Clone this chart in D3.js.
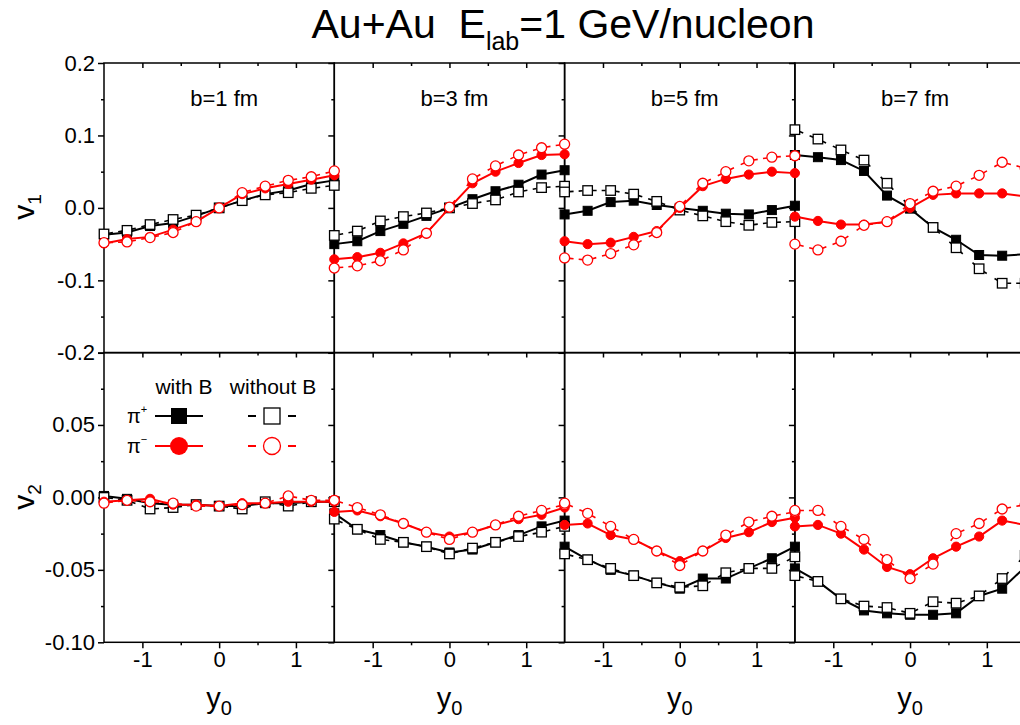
<!DOCTYPE html>
<html>
<head>
<meta charset="utf-8">
<script src="https://cdn.jsdelivr.net/npm/d3@7"></script>
<style>
  body { margin: 0; background: #fff; }
  text { font-family: Arial, "Liberation Sans", sans-serif; }
</style>
</head>
<body>
<script>
// rapidity points shared by every panel
var yRap = [-1.5, -1.2, -0.9, -0.6, -0.3, 0, 0.3, 0.6, 0.9, 1.2, 1.5];
var panelLabels = ["b=1 fm", "b=3 fm", "b=5 fm", "b=7 fm"];

// v1, one array per impact parameter
var v1PiPlusB = [
  [-0.037, -0.034, -0.025, -0.021, -0.011, 0, 0.010, 0.019, 0.024, 0.033, 0.038],
  [-0.050, -0.046, -0.032, -0.022, -0.011, 0, 0.012, 0.023, 0.032, 0.046, 0.052],
  [-0.009, -0.004, 0.008, 0.010, 0.004, 0, -0.004, -0.008, -0.009, -0.003, 0.003],
  [0.073, 0.070, 0.066, 0.051, 0.017, -0.001, -0.027, -0.044, -0.065, -0.066, -0.064]
];
var v1PiPlusNoB = [
  [-0.036, -0.031, -0.023, -0.016, -0.010, 0, 0.010, 0.018, 0.021, 0.027, 0.031],
  [-0.038, -0.032, -0.018, -0.012, -0.007, 0, 0.006, 0.011, 0.022, 0.028, 0.030],
  [0.022, 0.024, 0.024, 0.019, 0.009, -0.003, -0.011, -0.019, -0.024, -0.020, -0.019],
  [0.108, 0.095, 0.080, 0.066, 0.034, 0.002, -0.027, -0.055, -0.084, -0.104, -0.104]
];
var v1PiMinusB = [
  [-0.049, -0.043, -0.040, -0.030, -0.019, 0, 0.019, 0.027, 0.033, 0.039, 0.045],
  [-0.071, -0.068, -0.062, -0.049, -0.035, 0, 0.034, 0.050, 0.062, 0.073, 0.074],
  [-0.046, -0.050, -0.048, -0.040, -0.032, 0, 0.030, 0.040, 0.046, 0.050, 0.048],
  [-0.012, -0.018, -0.023, -0.023, -0.019, 0, 0.018, 0.020, 0.020, 0.020, 0.016]
];
var v1PiMinusNoB = [
  [-0.048, -0.047, -0.041, -0.034, -0.019, 0, 0.021, 0.030, 0.038, 0.043, 0.051],
  [-0.083, -0.080, -0.073, -0.058, -0.035, 0.001, 0.040, 0.058, 0.073, 0.083, 0.088],
  [-0.069, -0.072, -0.063, -0.051, -0.034, 0.002, 0.034, 0.050, 0.065, 0.070, 0.072],
  [-0.050, -0.058, -0.046, -0.024, -0.019, 0.006, 0.023, 0.030, 0.045, 0.063, 0.055]
];

// v2
var v2PiPlusB = [
  [0.001, -0.001, -0.004, -0.005, -0.005, -0.006, -0.006, -0.004, -0.004, -0.003, -0.003],
  [-0.011, -0.022, -0.026, -0.031, -0.034, -0.038, -0.036, -0.031, -0.026, -0.020, -0.016],
  [-0.034, -0.043, -0.050, -0.054, -0.059, -0.063, -0.056, -0.056, -0.049, -0.042, -0.034],
  [-0.049, -0.058, -0.070, -0.078, -0.080, -0.081, -0.081, -0.080, -0.068, -0.063, -0.048]
];
var v2PiPlusNoB = [
  [0.000, -0.002, -0.008, -0.007, -0.005, -0.006, -0.008, -0.003, -0.006, -0.003, -0.003],
  [-0.015, -0.022, -0.029, -0.031, -0.034, -0.039, -0.035, -0.031, -0.027, -0.024, -0.020],
  [-0.039, -0.043, -0.049, -0.054, -0.059, -0.062, -0.061, -0.052, -0.049, -0.049, -0.041],
  [-0.054, -0.058, -0.070, -0.075, -0.076, -0.080, -0.072, -0.073, -0.068, -0.056, -0.040]
];
var v2PiMinusB = [
  [-0.003, -0.002, -0.001, -0.005, -0.005, -0.006, -0.004, -0.004, -0.003, -0.003, -0.003],
  [-0.010, -0.009, -0.013, -0.018, -0.024, -0.027, -0.024, -0.019, -0.015, -0.012, -0.007],
  [-0.019, -0.018, -0.026, -0.029, -0.037, -0.044, -0.037, -0.028, -0.024, -0.017, -0.014],
  [-0.020, -0.019, -0.025, -0.036, -0.048, -0.053, -0.042, -0.034, -0.027, -0.016, -0.019]
];
var v2PiMinusNoB = [
  [-0.004, -0.002, -0.003, -0.004, -0.006, -0.006, -0.005, -0.004, 0.001, -0.002, -0.002],
  [-0.002, -0.007, -0.012, -0.018, -0.024, -0.029, -0.024, -0.019, -0.013, -0.009, -0.005],
  [-0.004, -0.011, -0.020, -0.029, -0.037, -0.047, -0.037, -0.026, -0.017, -0.013, -0.010],
  [-0.009, -0.009, -0.020, -0.029, -0.043, -0.056, -0.046, -0.025, -0.018, -0.008, -0.005]
];

var xTicks = [-1, 0, 1];
var xMinor = [-0.5, 0.5];
var v1Ticks = [-0.2, -0.1, 0, 0.1, 0.2];
var v1Minor = [-0.15, -0.05, 0.05, 0.15];
var v2Ticks = [-0.1, -0.05, 0, 0.05];
var v2Minor = [-0.075, -0.025, 0.025, 0.075];

// layout
var svgWidth = 1020, svgHeight = 725;
var left = 104, panelW = 230.3;
var rowTop = [63, 352.5], rowH = 289.8;

var svg = d3.select("body").append("svg")
  .attr("width", svgWidth)
  .attr("height", svgHeight);

var xScales = panelLabels.map(function(d, i) {
  return d3.scaleLinear().domain([-1.5, 1.5]).range([left + i * panelW, left + (i + 1) * panelW]);
});
var yScales = [
  d3.scaleLinear().domain([-0.2, 0.2]).range([rowTop[0] + rowH, rowTop[0]]),
  d3.scaleLinear().domain([-0.1, 0.1]).range([rowTop[1] + rowH, rowTop[1]])
];

var dashFmt1 = function(d) { return d3.format(".1f")(d).replace("\u2212", "-"); };
var dashFmt2 = function(d) { return d3.format(".2f")(d).replace("\u2212", "-"); };
var xFmt = function(d) { return d3.format("d")(d).replace("\u2212", "-"); };

function styleAxis(g) {
  g.select(".domain").remove();
  g.selectAll("line").attr("stroke", "black").attr("stroke-width", 1.5);
  g.selectAll("text").attr("font-size", 22).attr("fill", "black")
    .style("font-family", "Arial, 'Liberation Sans', sans-serif");
}

// axes and frames
[0, 1].forEach(function(r) {
  var y = yScales[r];
  xScales.forEach(function(x, p) {
    // left ticks (labels only on the first panel)
    svg.append("g").attr("transform", `translate(${x.range()[0]},0)`)
      .call(d3.axisLeft(y).tickValues(r === 0 ? v1Ticks : v2Ticks.concat([0.1])).tickSize(6).tickPadding(3)
        .tickFormat(p === 0 ? (r === 0 ? dashFmt1 : function(d) { return d === 0.1 ? "" : dashFmt2(d); }) : ""))
      .call(styleAxis);
    svg.append("g").attr("transform", `translate(${x.range()[0]},0)`)
      .call(d3.axisLeft(y).tickValues(r === 0 ? v1Minor : v2Minor).tickSize(3).tickFormat(""))
      .call(styleAxis);

    // top ticks (inward)
    svg.append("g").attr("transform", `translate(0,${rowTop[r]})`)
      .call(d3.axisTop(x).tickValues(xTicks).tickSize(-5).tickFormat(""))
      .call(styleAxis);
    svg.append("g").attr("transform", `translate(0,${rowTop[r]})`)
      .call(d3.axisTop(x).tickValues(xMinor).tickSize(-3).tickFormat(""))
      .call(styleAxis);

    if (r === 1) {
      svg.append("g").attr("transform", `translate(0,${rowTop[r] + rowH})`)
        .call(d3.axisBottom(x).tickValues(xTicks).tickSize(6).tickPadding(3).tickFormat(xFmt))
        .call(styleAxis);
      svg.append("g").attr("transform", `translate(0,${rowTop[r] + rowH})`)
        .call(d3.axisBottom(x).tickValues(xMinor).tickSize(3).tickFormat(""))
        .call(styleAxis);

      // y0 label
      var lab = svg.append("text")
        .attr("x", (x.range()[0] + x.range()[1]) / 2)
        .attr("y", 708)
        .attr("text-anchor", "middle")
        .attr("font-size", 29);
      lab.append("tspan").text("y");
      lab.append("tspan").attr("font-size", 20).attr("dy", 7).text("0");
    }

    svg.append("rect")
      .attr("x", x.range()[0]).attr("y", rowTop[r])
      .attr("width", panelW).attr("height", rowH)
      .attr("fill", "none").attr("stroke", "black").attr("stroke-width", 1.5);
  });
});

// panel labels
panelLabels.forEach(function(t, p) {
  var x = xScales[p];
  svg.append("text")
    .attr("x", (x.range()[0] + x.range()[1]) / 2 + 5)
    .attr("y", 106)
    .attr("text-anchor", "middle")
    .attr("font-size", 22)
    .text(t);
});

// y axis titles
[["1", 207], ["2", 497]].forEach(function(d) {
  var t = svg.append("text")
    .attr("transform", `translate(34,${d[1]}) rotate(-90)`)
    .attr("text-anchor", "middle")
    .attr("font-size", 30);
  t.append("tspan").text("v");
  t.append("tspan").attr("font-size", 19).attr("dy", 7).text(d[0]);
});

// title
var title = svg.append("text")
  .attr("x", 563).attr("y", 38)
  .attr("text-anchor", "middle")
  .attr("font-size", 41);
title.append("tspan").text("Au+Au\u00a0\u00a0E");
title.append("tspan").attr("font-size", 25).attr("dy", 12).text("lab");
title.append("tspan").attr("dy", -12).text("=1 GeV/nucleon");

// series drawing
var series = [
  { v1: v1PiPlusB, v2: v2PiPlusB, color: "black", shape: "square", filled: true },
  { v1: v1PiPlusNoB, v2: v2PiPlusNoB, color: "black", shape: "square", filled: false },
  { v1: v1PiMinusB, v2: v2PiMinusB, color: "red", shape: "circle", filled: true },
  { v1: v1PiMinusNoB, v2: v2PiMinusNoB, color: "red", shape: "circle", filled: false }
];

function drawMarker(g, cx, cy, s) {
  if (s.shape === "square") {
    var a = s.filled ? 9 : 9.5;
    g.append("rect")
      .attr("x", cx - a / 2).attr("y", cy - a / 2)
      .attr("width", a).attr("height", a)
      .attr("fill", s.filled ? s.color : "white")
      .attr("stroke", s.color).attr("stroke-width", s.filled ? 1 : 1.3);
  } else {
    g.append("circle")
      .attr("cx", cx).attr("cy", cy).attr("r", s.filled ? 4.6 : 5)
      .attr("fill", s.filled ? s.color : "white")
      .attr("stroke", s.color).attr("stroke-width", s.filled ? 1 : 1.3);
  }
}

var plotG = svg.append("g");
series.forEach(function(s) {
  [0, 1].forEach(function(r) {
    var y = yScales[r];
    var vals = r === 0 ? s.v1 : s.v2;
    vals.forEach(function(arr, p) {
      var x = xScales[p];
      var pts = arr.map(function(v, i) { return [x(yRap[i]), y(v)]; });
      var g = plotG.append("g");
      if (s.filled) {
        g.append("path")
          .attr("d", d3.line()(pts))
          .attr("fill", "none").attr("stroke", s.color).attr("stroke-width", 2);
      } else {
        // short dashes next to each marker
        for (var i = 0; i < pts.length - 1; i++) {
          var dx = pts[i + 1][0] - pts[i][0], dy = pts[i + 1][1] - pts[i][1];
          var L = Math.sqrt(dx * dx + dy * dy);
          g.append("line")
            .attr("x1", pts[i][0]).attr("y1", pts[i][1])
            .attr("x2", pts[i + 1][0]).attr("y2", pts[i + 1][1])
            .attr("stroke", s.color).attr("stroke-width", 1.6)
            .attr("stroke-dasharray", `0 5 4 ${Math.max(L - 18, 0)} 4 5`);
        }
      }
      pts.forEach(function(pt) { drawMarker(g, pt[0], pt[1], s); });
    });
  });
});

// legend
var lg = svg.append("g");
lg.append("text").attr("x", 184).attr("y", 394).attr("text-anchor", "middle").attr("font-size", 21).text("with B");
lg.append("text").attr("x", 273).attr("y", 394).attr("text-anchor", "middle").attr("font-size", 21).text("without B");
[["+", 416, series[0], series[1]], ["\u2212", 446, series[2], series[3]]].forEach(function(d) {
  var ly = d[1];
  var t = lg.append("text").attr("x", 127).attr("y", ly + 7).attr("font-size", 20);
  t.append("tspan").text("\u03c0");
  t.append("tspan").attr("font-size", 11).attr("dy", -10).text(d[0]);
  lg.append("line").attr("x1", 155).attr("x2", 203).attr("y1", ly).attr("y2", ly)
    .attr("stroke", d[2].color).attr("stroke-width", 2);
  lg.append("line").attr("x1", 248).attr("x2", 256).attr("y1", ly).attr("y2", ly)
    .attr("stroke", d[3].color).attr("stroke-width", 2);
  lg.append("line").attr("x1", 288).attr("x2", 296).attr("y1", ly).attr("y2", ly)
    .attr("stroke", d[3].color).attr("stroke-width", 2);
  if (d[2].shape === "square") {
    lg.append("rect").attr("x", 171).attr("y", ly - 8).attr("width", 16).attr("height", 16).attr("fill", "black");
    lg.append("rect").attr("x", 264).attr("y", ly - 8).attr("width", 16).attr("height", 16)
      .attr("fill", "white").attr("stroke", "black").attr("stroke-width", 1.3);
  } else {
    lg.append("circle").attr("cx", 179).attr("cy", ly).attr("r", 9).attr("fill", "red");
    lg.append("circle").attr("cx", 272).attr("cy", ly).attr("r", 8.5)
      .attr("fill", "white").attr("stroke", "red").attr("stroke-width", 1.3);
  }
});
</script>
</body>
</html>
